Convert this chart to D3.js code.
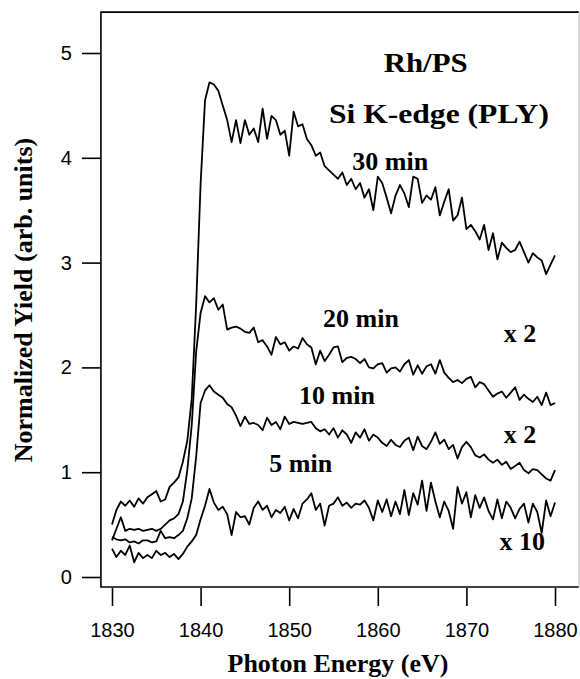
<!DOCTYPE html>
<html>
<head>
<meta charset="utf-8">
<script src="https://cdn.jsdelivr.net/npm/d3@7"></script>
<style>
  body { margin: 0; background: #fff; }
  .tick text { font-family: "Liberation Sans", Arial, sans-serif; font-size: 20px; fill: #000; }
  .tick line { stroke: #000; stroke-width: 1.6; }
  .lbl { font-family: "Liberation Serif", "Times New Roman", serif; font-weight: bold; font-size: 26px; fill: #000; }
</style>
</head>
<body>
<svg id="chart" width="580" height="679"></svg>
<script>
// Photon energy grid (eV), 0.5 eV steps
const energy = d3.range(1830, 1880.001, 0.5);

// Normalized yield, one row per 5 eV
const yield30 = [
  0.50,0.64,0.72,0.68,0.73,0.67,0.75,0.70,0.76,0.79,
  0.82,0.72,0.74,0.86,0.90,0.95,1.10,1.30,1.70,2.60,
  3.75,4.55,4.72,4.70,4.64,4.50,4.36,4.15,4.36,4.14,
  4.36,4.22,4.28,4.15,4.47,4.18,4.40,4.36,4.22,4.26,
  4.02,4.44,4.30,4.32,4.18,4.12,4.02,4.05,3.92,3.88,
  3.84,3.80,3.86,3.74,3.80,3.70,3.76,3.62,3.70,3.50,
  3.82,3.76,3.62,3.47,3.64,3.74,3.66,3.53,3.82,3.80,
  3.57,3.64,3.60,3.72,3.45,3.58,3.70,3.40,3.45,3.62,
  3.32,3.36,3.30,3.22,3.36,3.12,3.28,3.03,3.19,3.14,
  3.10,3.12,3.20,3.10,3.00,3.09,3.05,3.02,2.89,2.98,
  3.07
];
const yield20 = [
  0.35,0.46,0.57,0.44,0.46,0.45,0.46,0.44,0.45,0.46,
  0.44,0.46,0.50,0.54,0.56,0.60,0.72,1.02,1.45,2.15,
  2.52,2.68,2.62,2.66,2.55,2.60,2.36,2.38,2.39,2.37,
  2.34,2.33,2.38,2.24,2.26,2.20,2.12,2.29,2.22,2.24,
  2.16,2.20,2.18,2.28,2.22,2.19,2.03,2.16,2.06,2.12,
  2.19,2.20,2.05,2.09,2.10,2.08,2.04,2.08,2.00,1.99,
  2.03,2.04,1.95,1.99,2.00,1.96,2.03,2.07,1.93,2.02,
  1.94,2.01,2.03,1.94,2.07,1.95,1.90,1.86,1.88,1.85,
  1.89,1.91,1.81,1.86,1.84,1.78,1.72,1.75,1.77,1.71,
  1.76,1.81,1.69,1.74,1.70,1.67,1.72,1.64,1.76,1.64,
  1.66
];
const yield10 = [
  0.38,0.36,0.35,0.36,0.33,0.34,0.32,0.35,0.35,0.33,
  0.34,0.44,0.37,0.38,0.37,0.40,0.44,0.56,0.75,1.15,
  1.66,1.78,1.83,1.77,1.74,1.71,1.65,1.62,1.54,1.44,
  1.53,1.46,1.47,1.45,1.40,1.52,1.45,1.48,1.41,1.53,
  1.46,1.48,1.47,1.46,1.47,1.48,1.42,1.39,1.41,1.36,
  1.42,1.33,1.40,1.36,1.28,1.38,1.33,1.41,1.30,1.36,
  1.33,1.28,1.25,1.31,1.26,1.24,1.30,1.33,1.21,1.34,
  1.25,1.22,1.29,1.38,1.27,1.31,1.22,1.26,1.13,1.24,
  1.29,1.24,1.16,1.14,1.17,1.12,1.09,1.12,1.07,1.10,
  1.03,1.06,1.09,1.02,0.99,1.03,1.02,0.98,0.94,0.92,
  1.02
];
const yield5 = [
  0.27,0.19,0.25,0.21,0.30,0.14,0.23,0.18,0.21,0.18,
  0.25,0.21,0.23,0.19,0.22,0.17,0.22,0.29,0.34,0.40,
  0.55,0.68,0.84,0.71,0.64,0.67,0.60,0.40,0.62,0.57,
  0.58,0.50,0.66,0.72,0.64,0.68,0.57,0.64,0.61,0.67,
  0.54,0.65,0.56,0.70,0.74,0.80,0.64,0.70,0.49,0.68,
  0.70,0.76,0.68,0.71,0.66,0.70,0.69,0.73,0.66,0.54,
  0.73,0.62,0.74,0.58,0.72,0.60,0.83,0.59,0.80,0.69,
  0.92,0.63,0.90,0.72,0.57,0.72,0.63,0.46,0.86,0.70,
  0.81,0.57,0.78,0.66,0.76,0.63,0.55,0.74,0.56,0.72,
  0.66,0.56,0.65,0.70,0.52,0.70,0.62,0.42,0.73,0.58,
  0.71
];

const xTicks = [1830, 1840, 1850, 1860, 1870, 1880];
const yTicks = [0, 1, 2, 3, 4, 5];

// Text annotations, anchored in data units (w = stretched width for the wide title lines)
const notes = [
  { text: 'Rh/PS',           e: 1865.4, v: 4.82, w: 84 },
  { text: 'Si K-edge (PLY)', e: 1866.9, v: 4.33, w: 220 },
  { text: '30 min',          e: 1861.4, v: 3.88 },
  { text: '20 min',          e: 1858.1, v: 2.39 },
  { text: 'x 2',             e: 1876.05, v: 2.24 },
  { text: '10 min',          e: 1855.4, v: 1.65 },
  { text: 'x 2',             e: 1876.05, v: 1.28 },
  { text: '5 min',           e: 1851.3, v: 1.00 },
  { text: 'x 10',            e: 1876.3, v: 0.26 }
];

const svg = d3.select('#chart');

const x = d3.scaleLinear().domain([1830, 1880]).range([112, 555]);
const y = d3.scaleLinear().domain([0, 5]).range([577, 53]);

// plot box edges (slightly outside the tick range, as in the scan)
const eLo = 1828.75, eHi = 1882.7, vLo = -0.095, vHi = 5.39;

svg.append('path')
  .attr('d', `M${x(eHi)},${y(vHi)}H${x(eLo)}V${y(vLo)}H${x(eHi)}`)
  .attr('fill', 'none')
  .attr('stroke', '#000')
  .attr('stroke-width', 1.6);
svg.append('line')
  .attr('x1', x(eHi)).attr('x2', x(eHi))
  .attr('y1', y(vHi)).attr('y2', y(vLo))
  .attr('stroke', '#bbb').attr('stroke-width', 1);

// Axes
const xAxis = svg.append('g')
  .attr('transform', `translate(0,${y(vLo) + 1})`)
  .call(d3.axisBottom(x).tickValues(xTicks).tickSize(18).tickPadding(17).tickFormat(d3.format('d')));
xAxis.select('.domain').remove();

const yAxis = svg.append('g')
  .attr('transform', `translate(${x(eLo)},0)`)
  .call(d3.axisLeft(y).tickValues(yTicks).tickSize(19).tickPadding(10).tickFormat(d3.format('d')));
yAxis.select('.domain').remove();

// Spectra
const line = d3.line()
  .x((d, i) => x(energy[i]))
  .y(d => y(d));

[yield30, yield20, yield10, yield5].forEach(series => {
  svg.append('path')
    .datum(series)
    .attr('d', line)
    .attr('fill', 'none')
    .attr('stroke', '#000')
    .attr('stroke-width', 1.8)
    .attr('stroke-linejoin', 'round');
});

// Annotations
svg.selectAll('text.note')
  .data(notes)
  .join('text')
  .attr('class', 'lbl note')
  .attr('x', d => x(d.e))
  .attr('y', d => y(d.v))
  .attr('text-anchor', 'middle')
  .attr('textLength', d => d.w || null)
  .attr('lengthAdjust', d => d.w ? 'spacingAndGlyphs' : null)
  .style('font-size', d => d.w ? '27px' : null)
  .text(d => d.text);

// Axis titles
svg.append('text')
  .attr('class', 'lbl')
  .attr('x', 338)
  .attr('y', 672)
  .attr('text-anchor', 'middle')
  .text('Photon Energy (eV)');

svg.append('text')
  .attr('class', 'lbl')
  .attr('transform', 'translate(32,300) rotate(-90)')
  .attr('text-anchor', 'middle')
  .text('Normalized Yield (arb. units)');
</script>
</body>
</html>
